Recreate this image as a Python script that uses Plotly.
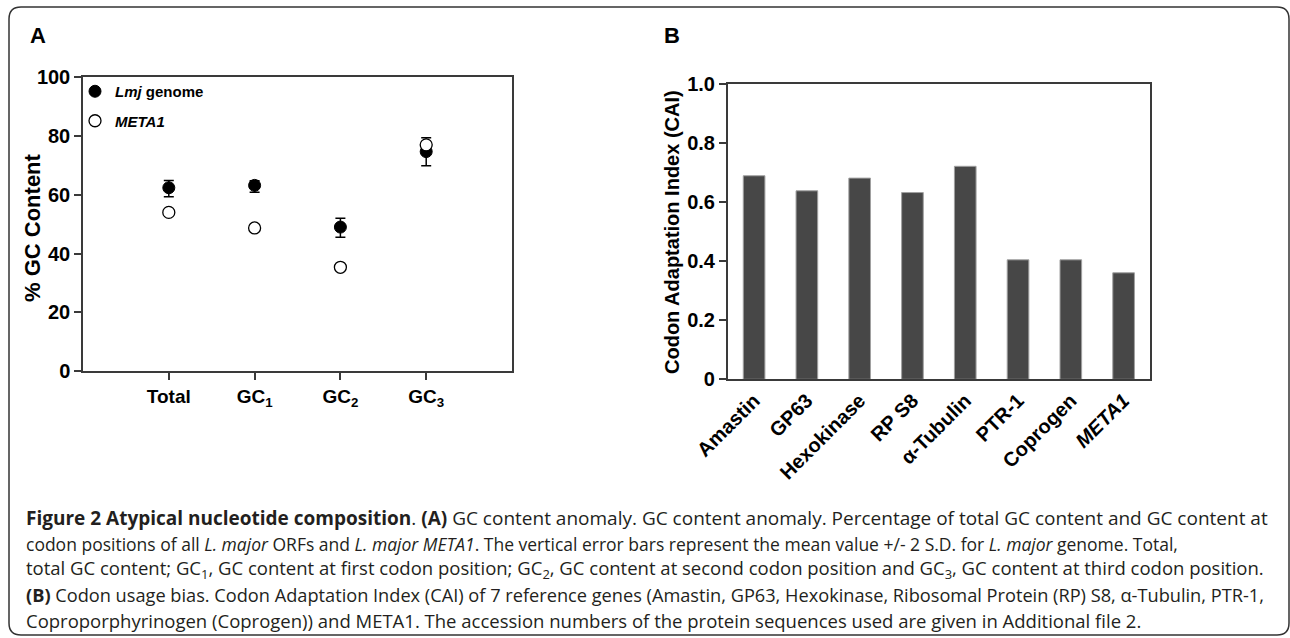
import plotly.graph_objects as go

# ---------------- data ----------------
gc_categories = ["Total", "GC1", "GC2", "GC3"]
gc_tick_labels = ["<b>Total</b>", "<b>GC<sub>1</sub></b>", "<b>GC<sub>2</sub></b>", "<b>GC<sub>3</sub></b>"]
lmj_genome = [62.4, 63.2, 49.0, 74.7]
lmj_err_plus = [2.5, 1.6, 3.0, 4.7]
lmj_err_minus = [3.1, 2.3, 3.5, 4.8]
meta1_gc = [54.0, 48.7, 35.3, 77.0]
gc_yticks = [0, 20, 40, 60, 80, 100]

genes = ["Amastin", "GP63", "Hexokinase", "RP S8", "α-Tubulin", "PTR-1", "Coprogen", "META1"]
gene_tick_labels = ["<b>Amastin</b>", "<b>GP63</b>", "<b>Hexokinase</b>", "<b>RP S8</b>", "<b>α-Tubulin</b>",
                    "<b>PTR-1</b>", "<b>Coprogen</b>", "<b><i>META1</i></b>"]
cai_values = [0.690, 0.639, 0.682, 0.633, 0.722, 0.405, 0.405, 0.361]
cai_yticks = [0, 0.2, 0.4, 0.6, 0.8, 1.0]
cai_ytick_labels = ["0", "0.2", "0.4", "0.6", "0.8", "1.0"]

W, H = 1290, 638


def px(x):
    return x / W


def py(y):
    return 1 - y / H


AX_COLOR = "#3a3a3a"
FAM = "Liberation Sans, Arial, sans-serif"

fig = go.Figure()

fig.add_trace(go.Scatter(
    x=gc_categories, y=lmj_genome, mode="markers",
    name="<b><i>Lmj</i> genome</b>",
    marker=dict(symbol="circle", size=12, color="black", line=dict(color="black", width=1)),
    error_y=dict(type="data", symmetric=False, array=lmj_err_plus, arrayminus=lmj_err_minus,
                 color="black", thickness=1.5, width=5),
    xaxis="x", yaxis="y", legendgroup="g1",
))
fig.add_trace(go.Scatter(
    x=gc_categories, y=meta1_gc, mode="markers",
    name="<b><i>META1</i></b>",
    marker=dict(symbol="circle", size=12, color="white", line=dict(color="black", width=1.3)),
    xaxis="x", yaxis="y", legendgroup="g2",
))

fig.add_trace(go.Bar(
    x=genes, y=cai_values, width=0.41,
    marker=dict(color="#474747", line=dict(color="#a0a0a0", width=1)),
    showlegend=False, xaxis="x2", yaxis="y2",
))

common_axis = dict(showline=True, linecolor=AX_COLOR, linewidth=1.5, mirror=True,
                   showgrid=False, zeroline=False, automargin=False)

fig.update_layout(
    width=W, height=H,
    margin=dict(l=0, r=0, t=0, b=0, autoexpand=False),
    paper_bgcolor="white", plot_bgcolor="white",
    font=dict(family=FAM, color="black"),
    xaxis=dict(
        domain=[px(83), px(512)], anchor="y",
        range=[-1, 4], tickmode="array", tickvals=gc_categories, ticktext=gc_tick_labels,
        ticks="outside", ticklen=7, tickwidth=1.5, tickcolor=AX_COLOR,
        tickfont=dict(family=FAM, size=19, color="black"),
        **common_axis,
    ),
    yaxis=dict(
        domain=[py(371), py(77.3)], anchor="x",
        range=[0, 100], tickmode="array", tickvals=gc_yticks,
        ticktext=[f"<b>{v}</b>" for v in gc_yticks],
        ticks="outside", ticklen=7, tickwidth=1.5, tickcolor=AX_COLOR,
        tickfont=dict(family=FAM, size=20, color="black"),
        **common_axis,
    ),
    xaxis2=dict(
        domain=[px(727.7), px(1150)], anchor="y2",
        range=[-0.5, 7.5], tickmode="array", tickvals=genes, ticktext=gene_tick_labels,
        tickangle=-45, ticks="",
        tickfont=dict(family=FAM, size=20, color="black"),
        **common_axis,
    ),
    yaxis2=dict(
        domain=[py(379.3), py(84.3)], anchor="x2",
        range=[0, 1.0], tickmode="array", tickvals=cai_yticks,
        ticktext=[f"<b>{t}</b>" for t in cai_ytick_labels],
        ticks="outside", ticklen=7, tickwidth=1.5, tickcolor=AX_COLOR,
        tickfont=dict(family=FAM, size=20, color="black"),
        **common_axis,
    ),
    legend=dict(
        x=px(75), y=py(75), xanchor="left", yanchor="top",
        bgcolor="rgba(0,0,0,0)", tracegroupgap=7,
        font=dict(family=FAM, size=15, color="black"),
        itemclick=False, itemdoubleclick=False,
    ),
)

# axis titles and panel letters
fig.add_annotation(text="<b>% GC Content</b>", x=px(33), y=py(228), xref="paper", yref="paper",
                   xanchor="center", yanchor="middle",
                   textangle=-90, showarrow=False, font=dict(family=FAM, size=22, color="black"))
fig.add_annotation(text="<b>Codon Adaptation Index (CAI)</b>", x=px(672), y=py(232), xref="paper", yref="paper",
                   xanchor="center", yanchor="middle",
                   textangle=-90, showarrow=False, font=dict(family=FAM, size=20, color="black"))
fig.add_annotation(text="<b>A</b>", x=px(28), y=py(35), xref="paper", yref="paper",
                   xanchor="left", yanchor="middle", showarrow=False, font=dict(family=FAM, size=22, color="black"))
fig.add_annotation(text="<b>B</b>", x=px(662), y=py(35), xref="paper", yref="paper",
                   xanchor="left", yanchor="middle", showarrow=False, font=dict(family=FAM, size=22, color="black"))

# caption
caption_lines = [
    "<b>Figure 2 Atypical nucleotide composition</b>. <b>(A)</b> GC content anomaly. GC content anomaly. "
    "Percentage of total GC content and GC content at",
    "codon positions of all <i>L. major</i> ORFs and <i>L. major META1</i>. The vertical error bars represent "
    "the mean value +/- 2 S.D. for <i>L. major</i> genome. Total,",
    "total GC content; GC<sub>1</sub>, GC content at first codon position; GC<sub>2</sub>, GC content at second "
    "codon position and GC<sub>3</sub>, GC content at third codon position.",
    "<b>(B)</b> Codon usage bias. Codon Adaptation Index (CAI) of 7 reference genes (Amastin, GP63, Hexokinase, "
    "Ribosomal Protein (RP) S8, α-Tubulin, PTR-1,",
    "Coproporphyrinogen (Coprogen)) and META1. The accession numbers of the protein sequences used are given "
    "in Additional file 2.",
]
caption_y = [518, 544, 569, 595, 620]
caption_size = [19, 17.5, 18.5, 18.2, 18.5]
for line, yy, fs in zip(caption_lines, caption_y, caption_size):
    fig.add_annotation(text=line, x=px(24), y=py(yy), xref="paper", yref="paper",
                       xanchor="left", yanchor="middle", showarrow=False, align="left",
                       font=dict(family="Open Sans, Noto Sans, sans-serif", size=fs, color="#231f20"))

# rounded frame
x0, y0, x1, y1, r = px(9), py(7), px(1289), py(635), 12
rx, ry = r / W, r / H
path = (f"M {x0 + rx},{y0} L {x1 - rx},{y0} Q {x1},{y0} {x1},{y0 - ry} "
        f"L {x1},{y1 + ry} Q {x1},{y1} {x1 - rx},{y1} "
        f"L {x0 + rx},{y1} Q {x0},{y1} {x0},{y1 + ry} "
        f"L {x0},{y0 - ry} Q {x0},{y0} {x0 + rx},{y0} Z")
fig.add_shape(type="path", path=path, xref="paper", yref="paper",
              line=dict(color="#333333", width=1.5), fillcolor="rgba(0,0,0,0)", layer="below")

fig.write_html("out.html", config={"displayModeBar": False},
               post_script="document.body.style.margin='0';document.body.style.overflow='hidden';")
